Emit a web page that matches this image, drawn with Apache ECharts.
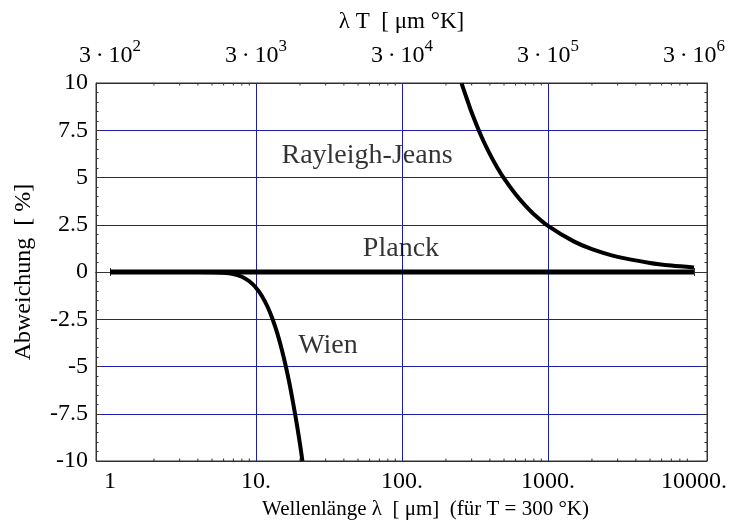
<!DOCTYPE html>
<html><head><meta charset="utf-8">
<script src="https://cdn.jsdelivr.net/npm/echarts@6/dist/echarts.min.js"></script>
<style>html,body{margin:0;padding:0;background:#fff}#c{width:735px;height:521px}</style>
</head><body><div id="c"></div>
<script>
// Wavelength in µm (T = 300 K), deviation from Planck in %
const wavelengthWien = [1, 3, 5, 6, 7, 8, 9, 10, 11, 12, 13, 14, 15, 16, 17, 18, 19, 20, 20.8];
const deviationWien = [0, 0, -0.007, -0.034, -0.11, -0.25, -0.49, -0.83, -1.28, -1.84, -2.5, -3.25, -4.09, -4.99, -5.95, -6.97, -8.01, -9.09, -10];
const wavelengthRJ = [256, 280, 300, 350, 400, 450, 500, 600, 700, 800, 1000, 1500, 2000, 3000, 5000, 7000, 10000];
const deviationRJ = [9.98, 9.1, 8.44, 7.17, 6.24, 5.52, 4.95, 4.11, 3.51, 3.06, 2.44, 1.62, 1.21, 0.80, 0.48, 0.34, 0.24];
const wavelengthPlanck = [1, 10000];
const deviationPlanck = [0, 0];

const bottomTickValues = [1, 10, 100, 1000, 10000];
const bottomTickLabels = ['1', '10.', '100.', '1000.', '10000.'];
const topTickExponents = ['2', '3', '4', '5', '6'];
const xMinorTicks = [2,3,4,5,6,7,8,9, 20,30,40,50,60,70,80,90, 200,300,400,500,600,700,800,900, 2000,3000,4000,5000,6000,7000,8000,9000];
const xGridLines = [10, 100, 1000];
const labelNames = ['Rayleigh-Jeans', 'Planck', 'Wien'];
const labelX = [57.6, 98.4, 31.1];
const labelY = [6.14, 1.22, -3.92];

const FONT = 'Liberation Serif';
const BLUE = '#1c1cb0';
const FRAME = '#333';
const XMIN = 0.802, XMAX = 12280;

function zip(a, b) { return a.map((v, i) => [v, b[i]]); }
function decadeIndex(v) {
  const e = Math.log10(v);
  const r = Math.round(e);
  if (Math.abs(e - r) > 1e-6) return -1;
  return bottomTickValues.indexOf(Math.pow(10, r));
}

const chart = echarts.init(document.getElementById('c'), null, {renderer: 'canvas'});
const option = {
  animation: false,
  backgroundColor: '#fff',
  grid: {left: 96, right: 28, top: 83, bottom: 60, outerBoundsMode: 'none', containLabel: false,
    show: true, borderColor: FRAME, borderWidth: 1, backgroundColor: 'transparent'},
  xAxis: [
    {
      type: 'log', min: XMIN, max: XMAX, position: 'bottom',
      name: 'Wellenlänge λ  [ μm]  (für T = 300 °K)', nameLocation: 'middle', nameGap: 32,
      nameTextStyle: {fontFamily: FONT, fontSize: 21, color: '#000', padding: [0, 0, 0, 48]},
      axisLine: {show: true, lineStyle: {color: FRAME, width: 1}},
      axisTick: {show: true, inside: true, length: 4, lineStyle: {color: FRAME}},
      axisLabel: {
        fontFamily: FONT, fontSize: 24, color: '#000', margin: 9,
        showMinLabel: false, showMaxLabel: false,
        formatter: v => { const i = decadeIndex(v); return i < 0 ? '' : bottomTickLabels[i]; }
      },
      splitLine: {show: false}
    },
    {
      type: 'log', min: XMIN, max: XMAX, position: 'top',
      name: 'λ T  [ μm °K]', nameLocation: 'middle', nameGap: 47,
      nameTextStyle: {fontFamily: FONT, fontSize: 23, color: '#000'},
      axisLine: {show: true, lineStyle: {color: FRAME, width: 1}},
      axisTick: {show: true, inside: true, length: 4, lineStyle: {color: FRAME}},
      axisLabel: {
        margin: 15, color: '#000',
        showMinLabel: false, showMaxLabel: false,
        formatter: v => { const i = decadeIndex(v); return i < 0 ? '' : '{a|3\u2009·\u200910}{s|' + topTickExponents[i] + '}'; },
        rich: {
          a: {fontFamily: FONT, fontSize: 24, color: '#000', verticalAlign: 'bottom', lineHeight: 30},
          s: {fontFamily: FONT, fontSize: 17, color: '#000', verticalAlign: 'top', lineHeight: 30}
        }
      },
      splitLine: {show: false}
    }
  ],
  yAxis: [
    {
      type: 'value', min: -10, max: 10, interval: 2.5, position: 'left',
      name: 'Abweichung  [ %]', nameLocation: 'middle', nameGap: 60,
      nameTextStyle: {fontFamily: FONT, fontSize: 24, color: '#000'},
      axisLine: {show: true, lineStyle: {color: FRAME, width: 1}},
      axisTick: {show: true, inside: true, length: 5, lineStyle: {color: FRAME}},
      minorTick: {show: true, splitNumber: 5, length: 2.5, lineStyle: {color: FRAME}},
      axisLabel: {fontFamily: FONT, fontSize: 24, color: '#000', margin: 8},
      splitLine: {show: true, lineStyle: {color: BLUE, width: 1}}
    },
    {
      type: 'value', min: -10, max: 10, interval: 2.5, position: 'right',
      axisLine: {show: true, lineStyle: {color: FRAME, width: 1}},
      axisTick: {show: true, inside: true, length: 5, lineStyle: {color: FRAME}},
      minorTick: {show: true, splitNumber: 5, length: 2.5, lineStyle: {color: FRAME}},
      axisLabel: {show: false},
      splitLine: {show: false}
    }
  ],
  series: [
    {
      type: 'line', name: 'grid', data: [], silent: true,
      markLine: {
        silent: true, symbol: 'none', label: {show: false},
        lineStyle: {color: BLUE, width: 1, type: 'solid'},
        data: xGridLines.map(v => ({xAxis: v}))
      }
    },
    {
      type: 'custom', silent: true, clip: false,
      data: xMinorTicks.map(v => [v, 0]),
      encode: {x: 0, y: 1},
      renderItem: (params, api) => {
        const x = api.value(0);
        const b = api.coord([x, -10]);
        const t = api.coord([x, 10]);
        return {type: 'group', children: [
          {type: 'line', shape: {x1: b[0], y1: b[1], x2: b[0], y2: b[1] - 2.5}, style: {stroke: FRAME, lineWidth: 1}},
          {type: 'line', shape: {x1: t[0], y1: t[1], x2: t[0], y2: t[1] + 2.5}, style: {stroke: FRAME, lineWidth: 1}}
        ]};
      }
    },
    {
      type: 'line', name: 'Planck', data: zip(wavelengthPlanck, deviationPlanck),
      showSymbol: false, lineStyle: {color: '#000', width: 5, cap: 'butt'}, z: 5
    },
    {
      type: 'line', name: 'Wien', data: zip(wavelengthWien, deviationWien),
      showSymbol: false, smooth: 0.3, lineStyle: {color: '#000', width: 4}, z: 5
    },
    {
      type: 'line', name: 'Rayleigh-Jeans', data: zip(wavelengthRJ, deviationRJ),
      showSymbol: false, smooth: 0.3, lineStyle: {color: '#000', width: 4}, z: 5
    },
    {
      type: 'scatter', silent: true, symbolSize: 0,
      data: labelNames.map((n, i) => ({value: [labelX[i], labelY[i]], name: n})),
      label: {show: true, position: 'inside', formatter: p => p.name, fontFamily: FONT, fontSize: 28,
        color: '#000', textBorderWidth: 0},
      z: 6
    }
  ]
};
chart.setOption(option);
</script>
</body></html>
